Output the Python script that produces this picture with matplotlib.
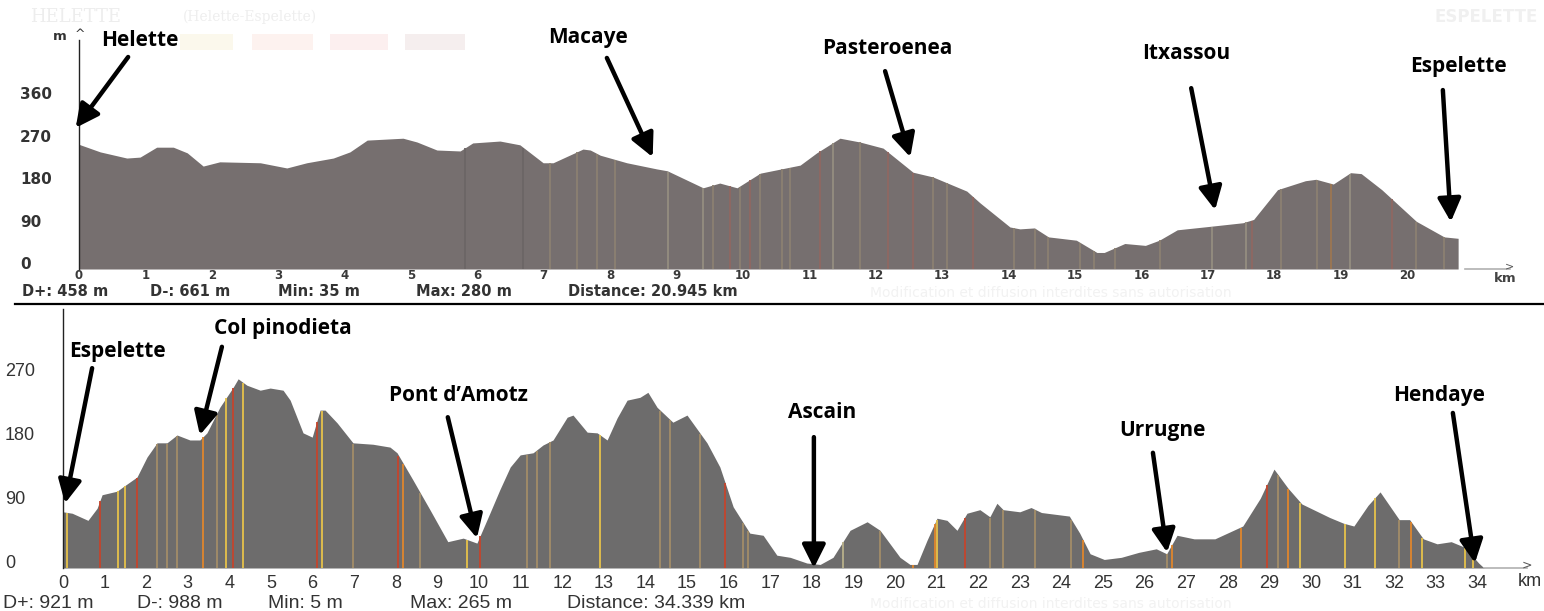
import matplotlib.pyplot as plt
import matplotlib.patches as mpatches
import numpy as np

W, H = 1544, 611

# ---- stage 1 : Helette -> Espelette (km, m)
top_km = [0.0, 0.32, 0.72, 0.92, 1.17, 1.42, 1.63, 1.87, 2.12, 2.73, 3.13, 3.43, 3.83, 4.08,
          4.34, 4.88, 5.09, 5.39, 5.74, 5.93, 6.34, 6.64, 6.99, 7.14, 7.59, 7.70, 7.85, 8.25,
          8.70, 8.86, 9.40, 9.65, 9.91, 10.26, 10.86, 11.11, 11.46, 11.76, 12.11, 12.56, 12.86,
          13.37, 13.57, 14.02, 14.17, 14.39, 14.60, 15.02, 15.33, 15.44, 15.75, 16.06, 16.27,
          16.54, 17.01, 17.53, 17.69, 18.05, 18.47, 18.63, 18.89, 19.15, 19.31, 19.62, 20.14,
          20.56, 20.77]
top_m = [264, 248, 235, 237, 258, 258, 246, 218, 227, 225, 214, 225, 235, 248,
         273, 277, 269, 252, 250, 267, 271, 263, 225, 225, 254, 252, 241, 225,
         212, 208, 172, 182, 172, 203, 220, 246, 277, 269, 256, 205, 195,
         165, 140, 89, 85, 87, 68, 61, 35, 35, 54, 50, 61,
         83, 90, 98, 105, 168, 187, 190, 180, 204, 202, 168, 101,
         68, 65]

# slope stripes (km, colour key)
top_stripes = [(5.81, "d"), (6.69, "d"), (7.09, "t"), (7.5, "t"), (7.8, "t"), (8.07, "t"),
               (8.87, "l"), (9.4, "l"), (9.55, "t"), (9.8, "r"), (9.95, "t"), (10.11, "r"),
               (10.26, "t"), (10.59, "t"), (10.71, "t"), (11.16, "r"), (11.36, "l"),
               (11.76, "t"), (12.18, "r"), (12.56, "r"), (12.86, "t"), (13.07, "t"),
               (13.46, "r"), (14.08, "t"), (14.4, "t"), (14.6, "t"), (15.07, "t"),
               (15.28, "t"), (15.6, "t"), (16.28, "t"), (17.06, "l"), (17.58, "l"),
               (17.66, "r"), (18.1, "t"), (18.64, "t"), (18.86, "o"), (19.14, "l"),
               (19.77, "r"), (20.14, "t"), (20.56, "t")]

# ---- stage 2 : Espelette -> Hendaye (km, m)
bot_km = [0.0, 0.22, 0.6, 0.82, 0.94, 1.3, 1.44, 1.78, 2.02, 2.26, 2.5, 2.74, 3.05, 3.29,
          3.46, 3.77, 4.09, 4.21, 4.42, 4.74, 4.98, 5.29, 5.46, 5.77, 5.99, 6.18, 6.3, 6.59,
          6.97, 7.45, 7.86, 8.03, 8.41, 8.82, 9.25, 9.62, 9.95, 10.26, 10.5, 10.75, 10.99,
          11.3, 11.54, 11.78, 12.12, 12.26, 12.6, 12.84, 13.08, 13.32, 13.56, 13.87, 14.06,
          14.28, 14.66, 15.0, 15.48, 15.79, 16.11, 16.51, 16.83, 17.16, 17.48, 17.88, 18.2,
          18.51, 18.92, 19.33, 19.64, 20.12, 20.36, 20.53, 20.77, 21.01, 21.25, 21.49, 21.73,
          22.04, 22.28, 22.45, 22.6, 23.0, 23.27, 23.52, 24.19, 24.44, 24.69, 25.03, 25.44,
          25.86, 26.28, 26.53, 26.78, 27.19, 27.69, 28.36, 28.78, 29.11, 29.45, 29.78, 30.45,
          30.78, 31.03, 31.37, 31.66, 32.12, 32.37, 32.7, 33.03, 33.37, 33.7, 34.03, 34.16]
bot_m = [79, 77, 67, 84, 103, 108, 114, 128, 156, 176, 176, 187, 180, 180,
         190, 226, 254, 266, 257, 250, 253, 250, 236, 190, 184, 222, 222, 204,
         176, 174, 170, 162, 124, 82, 37, 42, 35, 77, 110, 142, 159,
         162, 173, 180, 212, 215, 191, 190, 180, 211, 236, 240, 247,
         226, 205, 215, 176, 142, 86, 49, 46, 18, 15, 7, 5,
         15, 53, 65, 53, 15, 5, 5, 39, 70, 67, 53, 77,
         82, 72, 91, 82, 79, 85, 78, 73, 49, 20, 12, 15,
         22, 27, 20, 46, 41, 41, 59, 98, 139, 112, 90, 71,
         63, 59, 88, 107, 68, 68, 41, 34, 37, 29, 7, 0]

bot_stripes = [(0.09, "y"), (0.89, "r"), (1.33, "y"), (1.49, "y"), (1.77, "r"), (2.25, "t"),
               (2.49, "t"), (2.73, "t"), (3.37, "o"), (3.69, "t"), (3.93, "y"), (4.09, "r"),
               (4.33, "y"), (6.1, "r"), (6.22, "y"), (6.98, "t"), (8.06, "r"), (8.18, "o"),
               (8.58, "t"), (9.7, "y"), (10.03, "r"), (11.15, "t"), (11.39, "t"), (11.7, "t"),
               (12.9, "y"), (14.35, "t"), (14.59, "t"), (15.31, "t"), (15.91, "r"),
               (16.35, "t"), (16.47, "t"), (18.76, "l"), (19.64, "t"), (20.43, "o"),
               (20.96, "o"), (21.0, "y"), (21.68, "r"), (22.28, "t"), (22.6, "t"),
               (23.36, "t"), (24.23, "t"), (24.52, "o"), (26.53, "t"), (26.66, "o"),
               (28.32, "o"), (28.94, "r"), (29.2, "t"), (29.45, "o"), (29.74, "y"),
               (30.82, "y"), (31.54, "y"), (32.12, "t"), (32.4, "o"), (32.67, "y"),
               (33.7, "y"), (33.9, "y")]

top_stats = ["D+: 458 m", "D-: 661 m", "Min: 35 m", "Max: 280 m", "Distance: 20.945 km"]
bot_stats = ["D+: 921 m", "D-: 988 m", "Min: 5 m", "Max: 265 m", "Distance: 34.339 km"]

# place names: (label, text km, text m, arrow tail km, m, arrow tip km, m)
top_places = [("Helette", 0.92, 485, 0.74, 449, -0.05, 299),
              ("Macaye", 7.67, 491, 7.95, 447, 8.64, 237),
              ("Pasteroenea", 12.18, 466, 12.14, 419, 12.52, 237),
              ("Itxassou", 16.67, 457, 16.75, 383, 17.11, 125),
              ("Espelette", 20.78, 428, 20.54, 379, 20.66, 100)]
bot_places = [("Espelette", 1.32, 304, 0.70, 281, 0.05, 91),
              ("Col pinodieta", 5.29, 337, 3.82, 311, 3.29, 187),
              ("Pont d\u2019Amotz", 9.5, 243, 9.25, 212, 9.95, 42),
              ("Ascain", 18.25, 218, 18.05, 184, 18.05, 0),
              ("Urrugne", 26.42, 194, 26.2, 162, 26.54, 22),
              ("Hendaye", 33.08, 243, 33.41, 218, 33.94, 7)]

top_colors = {"d": "#6c6666", "t": "#8c8072", "l": "#958d80", "r": "#8f6862", "o": "#9c7652"}
bot_colors = {"y": "#e6c24a", "o": "#e0862c", "r": "#c4452c", "t": "#a38d68", "l": "#b8b08a"}

fig = plt.figure(figsize=(W / 100, H / 100), dpi=100)


def fx(x):
    return x / W


def fy(y):
    return 1 - y / H


def draw_panel(ax, km, m, stripes, colors, fill, places):
    ax.fill_between(km, m, 0, color=fill, lw=0, zorder=1)
    for k, c in stripes:
        ax.vlines(k, 0, np.interp(k, km, m) - 1, color=colors[c], lw=1.3, zorder=2)
    for name, tx, ty, ax0, ay0, ax1_, ay1 in places:
        ax.text(tx, ty, name, ha="center", va="center", fontsize=15,
                family="Open Sans", fontweight="bold", color="black", clip_on=False)
        ax.annotate("", xy=(ax1_, ay1), xytext=(ax0, ay0), annotation_clip=False,
                    arrowprops=dict(arrowstyle="-|>,head_length=0.7,head_width=0.35",
                                    lw=3.2, color="black", shrinkA=0, shrinkB=0,
                                    mutation_scale=20))
    for s in ax.spines.values():
        s.set_visible(False)
    ax.patch.set_alpha(0)


# top panel
ax1 = fig.add_axes([fx(79), fy(269), 1 - fx(79), 269 / H])
ax1.set_xlim(0, (W - 79) / 66.4)
ax1.set_ylim(0, 269 * 2.118)
draw_panel(ax1, top_km, top_m, top_stripes, top_colors, "#766f6f", top_places)
ax1.set_xticks(range(0, 21))
ax1.set_yticks([0, 90, 180, 270, 360])
ax1.tick_params(axis="x", length=0, pad=0.3, labelsize=8.5, labelcolor="#3a3a3a")
ax1.tick_params(axis="y", length=0, pad=42.5, labelsize=11, labelcolor="#333333")
for lbl in ax1.get_xticklabels():
    lbl.set_fontweight("bold")
for lbl in ax1.get_yticklabels():
    lbl.set_fontweight("bold")
    lbl.set_ha("left")
    lbl.set_va("baseline")
ax1.plot([0, 0], [0, 485], color="#222222", lw=1, clip_on=False)
fig.text(fx(80), fy(34), "^", ha="center", va="center", fontsize=9, color="#333333")
fig.text(fx(60), fy(36), "m", ha="center", va="center", fontsize=9.5, color="#333333",
         fontweight="bold")
ax1.plot([(1465 - 79) / 66.4, (1510 - 79) / 66.4], [0, 0], color="#b0b0b0",
         lw=1.2, clip_on=False)
fig.text(fx(1510), fy(266), ">", ha="center", va="center", fontsize=8, color="#555555")
fig.text(fx(1505), fy(279), "km", ha="center", va="center", fontsize=9.5, color="#444444",
         fontweight="bold")

# bottom panel
ax2 = fig.add_axes([fx(63), fy(568), 1 - fx(63), 263 / H])
ax2.set_xlim(0, (W - 63) / 41.6)
ax2.set_ylim(0, 263 * 1.406)
draw_panel(ax2, bot_km, bot_m, bot_stripes, bot_colors, "#6d6c6c", bot_places)
ax2.set_xticks(range(0, 35))
ax2.set_yticks([0, 90, 180, 270])
ax2.tick_params(axis="x", length=0, pad=5, labelsize=13, labelcolor="#333333")
ax2.tick_params(axis="y", length=0, pad=41.8, labelsize=13, labelcolor="#333333")
for lbl in ax2.get_xticklabels() + ax2.get_yticklabels():
    lbl.set_family("Liberation Sans")
for lbl in ax2.get_yticklabels():
    lbl.set_ha("left")
    lbl.set_va("baseline")
ax2.plot([0, 0], [0, 364], color="#222222", lw=1, clip_on=False)
ax2.plot([(1484 - 63) / 41.6, (1527 - 63) / 41.6], [0, 0], color="#b0b0b0", lw=1.2,
         clip_on=False)
fig.text(fx(1527), fy(565), ">", ha="center", va="center", fontsize=9, color="#555555")
fig.text(fx(1530), fy(581), "km", ha="center", va="center", fontsize=13, color="#333333",
         family="Liberation Sans")

# summary lines under each profile
for s, x in zip(top_stats, [22, 150, 278, 416, 568]):
    fig.text(fx(x), fy(291), s, ha="left", va="center", fontsize=10.5, fontweight="bold",
             color="#333333")
for s, x in zip(bot_stats, [3, 137, 268, 410, 567]):
    fig.text(fx(x), fy(603), s, ha="left", va="center", fontsize=14, color="#333333",
             family="Liberation Sans")

# faint watermark texts of the original site
fig.text(fx(30), fy(17), "HELETTE", fontsize=13, family="DejaVu Serif", color="#ededed",
         va="center")
fig.text(fx(183), fy(17), "(Helette-Espelette)", fontsize=10, family="DejaVu Serif",
         color="#eeeeee", va="center")
fig.text(fx(1435), fy(17), "ESPELETTE", fontsize=12, fontweight="bold", color="#f0f0f0",
         va="center")
for x0, x1, c in [(180, 233, "#fbf8ec"), (252, 313, "#fdf2ef"),
                  (330, 388, "#fcefef"), (405, 465, "#f5eeee")]:
    fig.patches.append(mpatches.Rectangle((fx(x0), fy(50)), fx(x1) - fx(x0), 16 / H,
                                          transform=fig.transFigure, color=c, lw=0))
fig.text(fx(870), fy(293), "Modification et diffusion interdites sans autorisation",
         fontsize=10, color="#f2f2f2", va="center")
fig.text(fx(870), fy(604), "Modification et diffusion interdites sans autorisation",
         fontsize=10, color="#f2f2f2", va="center")

# separator between the two stages
fig.lines.append(plt.Line2D([fx(15), 1], [fy(304), fy(304)], transform=fig.transFigure,
                            color="black", lw=1.6))

fig.savefig("out.png", dpi=100, facecolor="white")
